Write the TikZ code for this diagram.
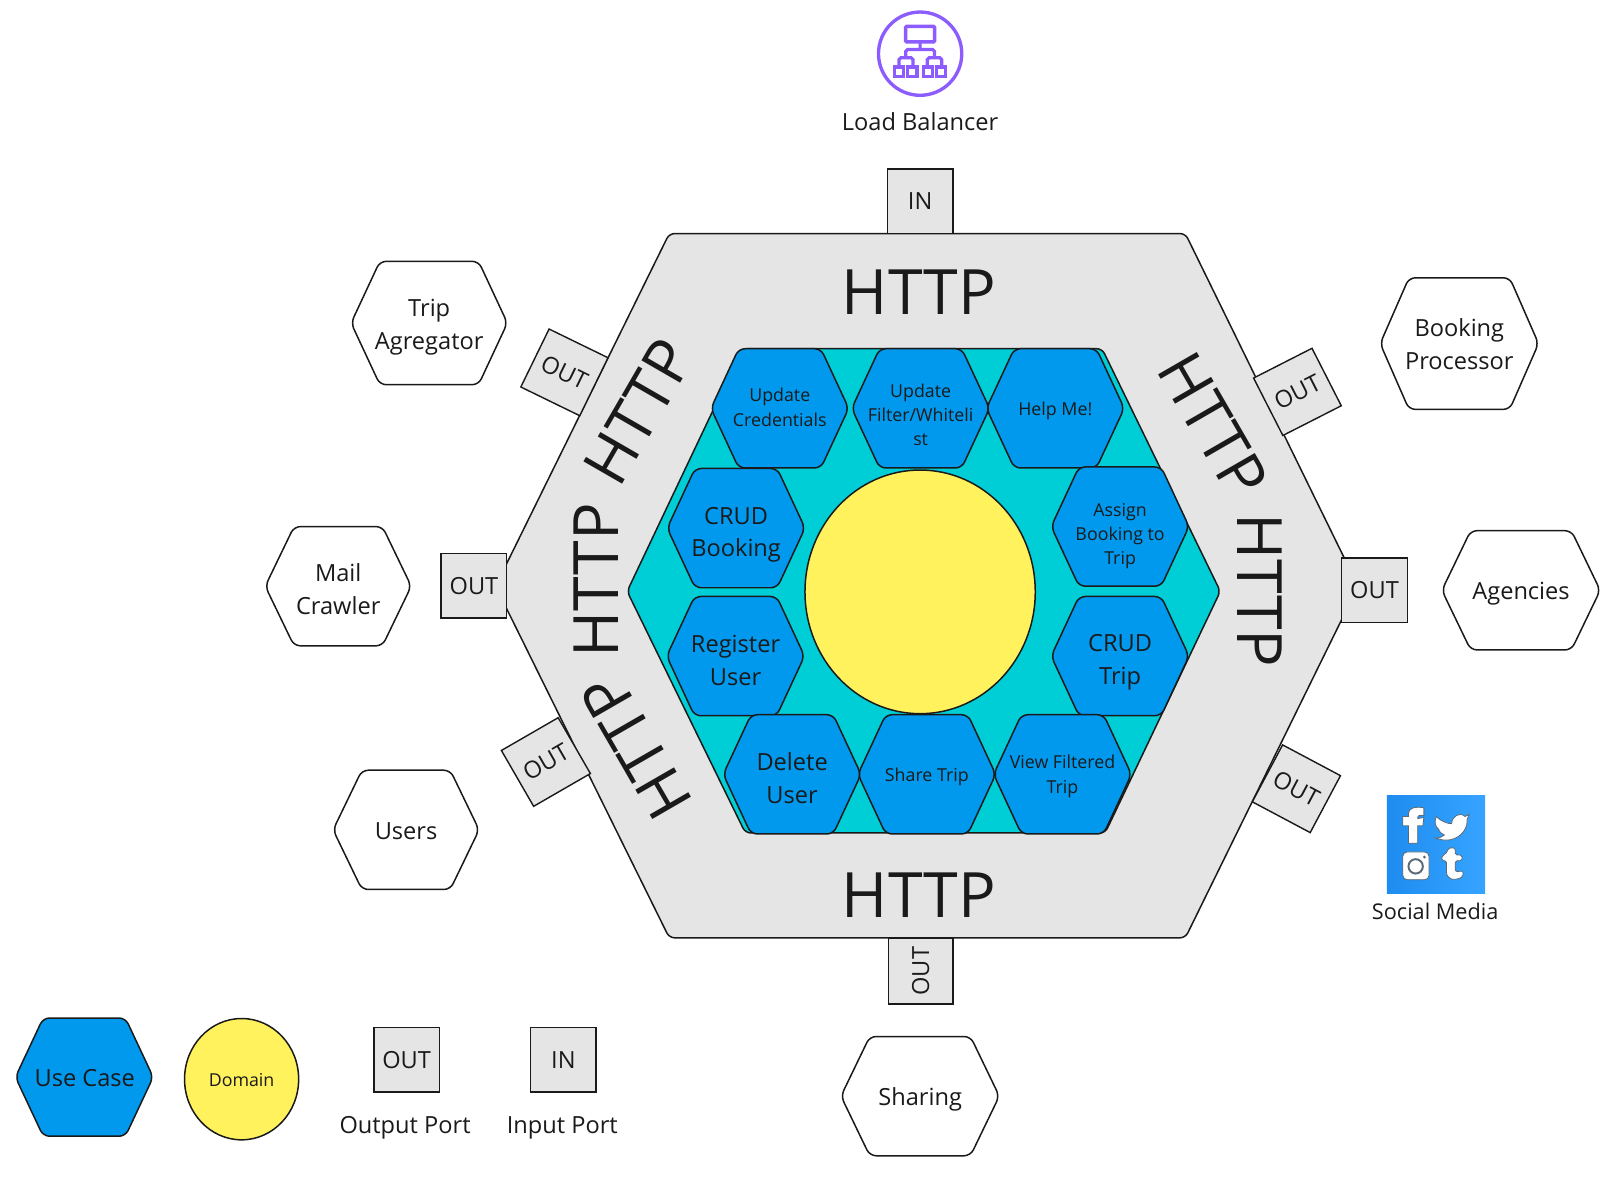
\documentclass[tikz,border=0pt]{standalone}
\usepackage{fontspec}
\setmainfont{Open Sans}
\definecolor{hexgray}{HTML}{E5E5E5}
\definecolor{hexteal}{HTML}{00CED6}
\definecolor{hexblue}{HTML}{0099EE}
\definecolor{domyellow}{HTML}{FFF25C}
\definecolor{lbpurple}{HTML}{8C5CFF}
\definecolor{inkdark}{HTML}{1A1A1A}
\definecolor{socialA}{HTML}{1E8CF0}
\definecolor{socialB}{HTML}{36A4FF}
\definecolor{socialEdge}{HTML}{5A6A78}

\begin{document}
\begin{tikzpicture}[
    x=0.5835pt, y=-0.5835pt,
    every node/.style={text=inkdark, align=center, inner sep=0pt},
    hexline/.style={draw=inkdark, line width=0.85pt, rounded corners=3.6pt},
    portbox/.style={draw=inkdark, line width=0.8pt, fill=hexgray, minimum width=37.2pt, minimum height=36.6pt, font=\fontsize{13.4}{16}\selectfont},
    biglabel/.style={font=\fontsize{13.4}{18.6}\selectfont},
    smalllabel/.style={font=\fontsize{10.1}{13.7}\selectfont},
    httplabel/.style={font=\fontsize{35.5}{40}\selectfont},
    iconedge/.style={fill=white, draw=socialEdge, line width=0.45pt},
]
\useasboundingbox (0,-0.2) rectangle (1568,1155.3);

% === Outer hexagon ===
\draw[hexline, rounded corners=3pt, fill=hexgray] (651,227) -- (1153,227) -- (1321,570) -- (1153,912) -- (651,912) -- (482,570) -- cycle;

% === Inner hexagon ===
\draw[hexline, rounded corners=3pt, fill=hexteal] (722,339) -- (1072,339) -- (1187,575) -- (1075,810) -- (725,810) -- (610,575) -- cycle;

% === HTTP labels ===
\node[httplabel] (httpTop) at (894,284) {HTTP};
\node[httplabel] (httpBottom) at (894,870.5) {HTTP};
\node[httplabel, rotate=60] (httpTopLeft) at (621,400) {HTTP};
\node[httplabel, rotate=90] (httpLeft) at (580,564) {HTTP};
\node[httplabel, rotate=120] (httpBottomLeft) at (619,726) {HTTP};
\node[httplabel, rotate=-60] (httpTopRight) at (1180,413) {HTTP};
\node[httplabel, rotate=-90] (httpRight) at (1225,574) {HTTP};

% === Use cases ===
\foreach \nm/\cx/\cy/\ly/\sz/\lbl in {
    updCred/758.5/397/396/smalllabel/{Update\\Credentials},
    updFilter/895.5/397/403.5/smalllabel/{Update\\Filter/Whiteli\\st},
    helpMe/1026.5/397/399/smalllabel/{Help Me!},
    crudBooking/716/513.5/520/biglabel/{CRUD\\Booking},
    assignTrip/1089.5/512/521/smalllabel/{Assign\\Booking to\\Trip},
    regUser/715.5/638/642/biglabel/{Register\\User},
    crudTrip/1089.5/638/644/biglabel/{CRUD\\Trip},
    delUser/770.5/753/756.5/biglabel/{Delete\\User},
    shareTrip/901.5/753/755/smalllabel/{Share Trip},
    viewTrip/1033.5/753/755/smalllabel/{View Filtered\\Trip}} {
    \draw[hexline, fill=hexblue] (\cx-40,\cy-58) -- (\cx+40,\cy-58) -- (\cx+67,\cy) -- (\cx+40,\cy+58) -- (\cx-40,\cy+58) -- (\cx-67,\cy) -- cycle;
    \node[\sz] (\nm) at (\cx,\ly) {\lbl};
}

% === Domain ===
\draw[draw=inkdark, line width=0.85pt, fill=domyellow] (895,575.5) ellipse (112 and 118.5);

% === External systems ===
\foreach \nm/\cx/\cy/\ly/\hw/\hh/\lbl in {
    tripAgg/417.5/314/318/76/60/{Trip\\Agregator},
    bookProc/1419.5/334/334.5/77/64/{Booking\\Processor},
    mailCrawler/329/570/572.5/71/58/{Mail\\Crawler},
    agencies/1479.5/574/577/77/58/{Agencies},
    users/395/807/808/71/58/{Users},
    sharing/895/1066/1069/77/58/{Sharing}} {
    \draw[hexline, fill=white] (\cx-\hw+28,\cy-\hh) -- (\cx+\hw-28,\cy-\hh) -- (\cx+\hw,\cy) -- (\cx+\hw-28,\cy+\hh) -- (\cx-\hw+28,\cy+\hh) -- (\cx-\hw,\cy) -- cycle;
    \node[biglabel] (\nm) at (\cx,\ly) {\lbl};
}

% === Ports ===
\node[portbox] (portIn) at (895,195.5) {IN};
\node[portbox] (portLeft) at (461,569.5) {OUT};
\node[portbox] (portRight) at (1337,574) {OUT};
\node[portbox, rotate=90] (portBottom) at (895.5,944.5) {OUT};
\node[portbox, rotate=-26] (portTopLeft) at (549,362) {OUT};
\node[portbox, rotate=27] (portTopRight) at (1262,381) {OUT};
\node[portbox, rotate=30] (portBottomLeft) at (531,741) {OUT};
\node[portbox, rotate=-28] (portBottomRight) at (1261,767) {OUT};

% === Load balancer icon ===
\draw[lbpurple, line width=1.9pt] (895,52) circle (40.5);
\draw[lbpurple, line width=2pt, rounded corners=0.5pt] (881,25.5) rectangle (909,40.5);
\draw[lbpurple, line width=1.8pt, rounded corners=1pt] (895,41) -- (895,48) (881,56) -- (881,48) -- (909,48) -- (909,56)
    (874.5,64) -- (874.5,56) -- (888,56) -- (888,64) (902,64) -- (902,56) -- (916,56) -- (916,64);
\foreach \bx in {870,883,898,911} {
    \draw[lbpurple, line width=1.8pt] (\bx,65) rectangle (\bx+9,74);
}
\node[biglabel] (lbLabel) at (895,118) {Load Balancer};

% === Social media icon ===
\shade[left color=socialA, right color=socialB] (1349,773.5) rectangle (1444.5,868.5);
\filldraw[iconedge] (1370,820) -- (1370,803) -- (1364.5,803) -- (1364.5,794) -- (1370,794) -- (1370,791)
    .. controls (1370,786) and (1376,784) .. (1385,785.5) -- (1385,793) .. controls (1380,792.5) and (1379,793) .. (1379,796)
    -- (1385,795) -- (1384,803) -- (1379,803) -- (1379,820) -- cycle;
\filldraw[iconedge] (1397,794) .. controls (1402,799) and (1408,801) .. (1412,801)
    .. controls (1412,794) and (1420,789) .. (1425,794) -- (1429,792) -- (1427,797) -- (1427,799)
    .. controls (1427,808) and (1418,817) .. (1407,817) .. controls (1403,817) and (1399,816) .. (1396,815)
    .. controls (1400,815) and (1403,814) .. (1405,812) .. controls (1402,811) and (1400,809) .. (1399,806)
    .. controls (1396,804) and (1395,799) .. (1397,794) -- cycle;
\filldraw[iconedge, rounded corners=2.5pt] (1364.5,828.5) rectangle (1390,855.5);
\draw[socialEdge, line width=1.1pt] (1377,842.5) circle (7);
\fill[socialEdge] (1385.5,833.5) circle (1.5);
\filldraw[iconedge, rounded corners=1pt] (1407,846) -- (1407,837) -- (1402.5,837) -- (1402.5,832)
    .. controls (1406,831) and (1408,828) .. (1409,824.5) -- (1415.5,824.5) -- (1415.5,831.5) -- (1422,831.5) -- (1422,837) -- (1415.5,837) -- (1415.5,844)
    .. controls (1415.5,848) and (1419,848) .. (1423,846.5) -- (1423,852.5) .. controls (1414,857) and (1407,855) .. (1407,846) -- cycle;
\node[font=\fontsize{12.3}{16}\selectfont] (socialLabel) at (1396,886) {Social Media};

% === Legend ===
\draw[hexline, fill=hexblue] (42,990) -- (122,990) -- (149,1047.5) -- (122,1105) -- (42,1105) -- (15,1047.5) -- cycle;
\node[biglabel] (legendUseCase) at (82.5,1048) {Use Case};
\draw[draw=inkdark, line width=0.85pt, fill=domyellow] (235,1049.5) ellipse (55.5 and 59);
\node[smalllabel] (legendDomain) at (235,1050) {Domain};
\node[portbox] (legendOut) at (395.5,1030.5) {OUT};
\node[portbox] (legendIn) at (548,1030.5) {IN};
\node[biglabel] (legendOutLabel) at (394,1096.5) {Output Port};
\node[biglabel] (legendInLabel) at (547,1096.5) {Input Port};

\end{tikzpicture}
\end{document}
